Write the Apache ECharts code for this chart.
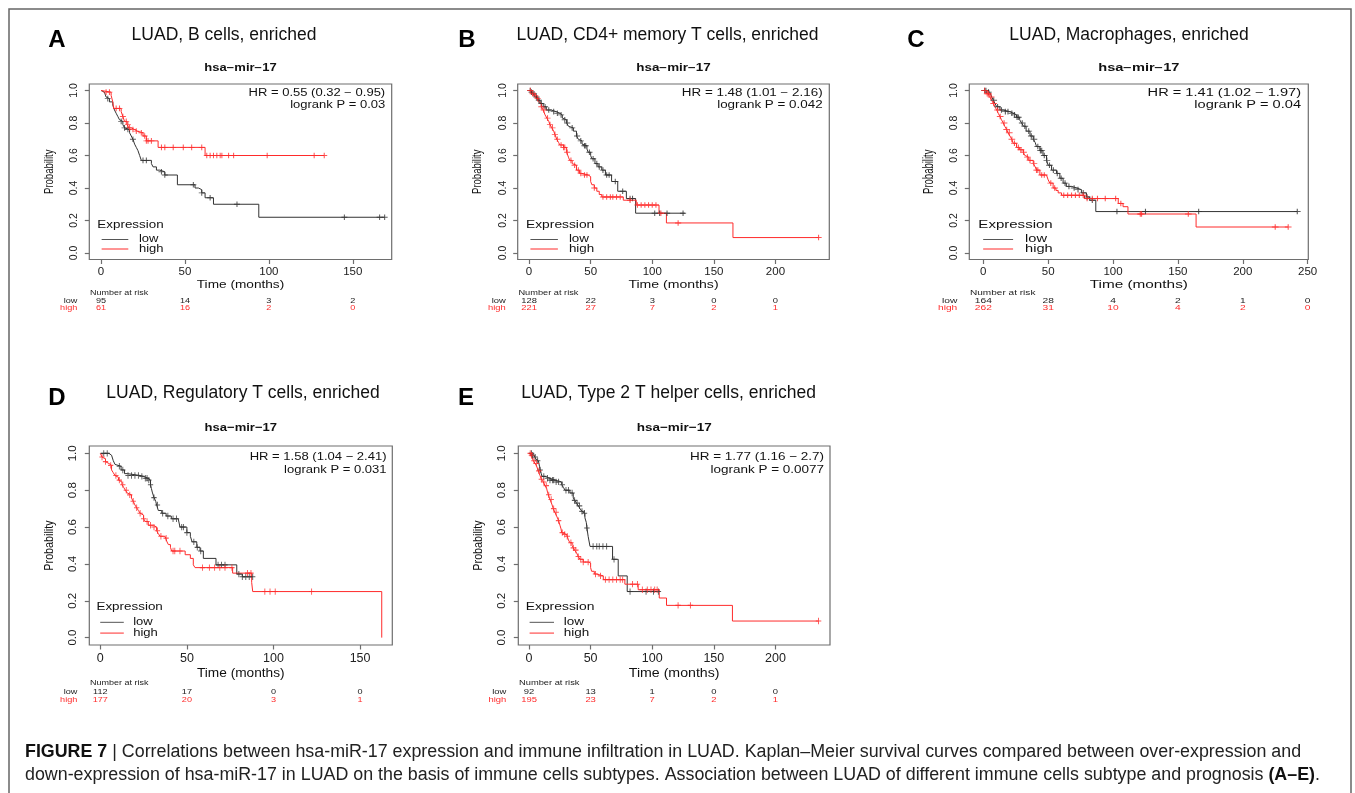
<!DOCTYPE html>
<html>
<head>
<meta charset="utf-8">
<script src="https://cdn.jsdelivr.net/npm/echarts@6/dist/echarts.min.js"></script>
<style>
  html, body { margin: 0; padding: 0; background: #fff; }
  #chart { width: 1355px; height: 793px; }
</style>
</head>
<body>
<div id="chart"></div>
<script>
// ---- data: KM steps [time, survival], censor times, risk tables ----
const yTicks = [0, 0.2, 0.4, 0.6, 0.8, 1.0]
const yTickLabels = ["0.0", "0.2", "0.4", "0.6", "0.8", "1.0"]

// A: B cells
const aTicks = [0, 50, 100, 150]
const aLow = [[0,1],[1,0.99],[2,0.98],[3,0.96],[4,0.95],[5,0.93],[7,0.91],[8,0.88],[9,0.86],[10,0.84],[11,0.82],[12,0.81],[13,0.79],[14,0.77],[15,0.76],[17,0.74],[18,0.72],[19,0.70],[20,0.67],[21,0.65],[22,0.63],[23,0.60],[24,0.57],[30,0.55],[31,0.53],[33,0.51],[35,0.50],[38,0.48],[45.5,0.42],[56,0.40],[58,0.39],[60,0.37],[62,0.34],[67,0.30],[94,0.22],[169,0.22]]
const aHigh = [[0,1],[1,0.99],[6,0.97],[7,0.93],[7.5,0.89],[12,0.87],[13,0.84],[14,0.81],[15.5,0.79],[16.5,0.77],[18,0.76],[20,0.75],[21.5,0.74],[25,0.72],[27,0.69],[34,0.65],[62,0.60],[133,0.60]]
const aLowCens = [4,12,14,16,19,25,27,36,38,55,60,65,81,145,166,169]
const aHighCens = [3,5,9,11,13,15,16,17,19,21,24,26,27,28,30,36,38,43,49,54,60,63,65,67,69,71,72,76,79,99,127,133]
const aRiskLow = [95, 14, 3, 2]
const aRiskHigh = [61, 16, 2, 0]

// B: CD4+ memory T cells
const bTicks = [0, 50, 100, 150, 200]
const bLow = [[0,1],[2,0.99],[3.5,0.98],[5,0.96],[7,0.94],[9,0.92],[11.5,0.90],[14,0.88],[18,0.87],[22,0.86],[25,0.85],[27,0.83],[28,0.82],[30.5,0.80],[32,0.78],[33.5,0.77],[36,0.75],[38.5,0.72],[40,0.70],[41.5,0.69],[43,0.67],[44,0.66],[47,0.64],[48,0.62],[50,0.60],[51,0.58],[53.5,0.55],[56,0.53],[59,0.51],[62,0.48],[67,0.44],[72,0.38],[79,0.335],[86.5,0.245],[126.5,0.245]]
const bHigh = [[0,1],[2,0.98],[4,0.97],[6,0.95],[8,0.93],[9,0.92],[10,0.90],[11.5,0.88],[13,0.85],[14.5,0.83],[16,0.81],[17,0.79],[18.5,0.77],[20,0.75],[21,0.73],[22.5,0.70],[24,0.68],[25,0.665],[28,0.65],[30.5,0.62],[32,0.59],[33,0.57],[35,0.55],[36,0.54],[38.5,0.51],[41,0.49],[43,0.48],[48,0.47],[50,0.44],[51,0.42],[53,0.40],[55,0.38],[57,0.36],[59,0.345],[76.5,0.325],[87,0.295],[105.5,0.245],[111.5,0.185],[165.5,0.095],[235,0.095]]
const bLowCens = [1,2,4,6,8,10,13,16,20,23,26,29,31,35,39,42,45,46,49,52,55,57,60,63,65,70,76,82,84,102,106,112,125]
const bHighCens = [1,3,5,7,10,12,15,17,19,21,23,26,28,29,31,34,37,40,42,45,47,53,60,63,66,68,71,74,82,88,91,94,97,100,103,107,121,235]
const bRiskLow = [128, 22, 3, 0, 0]
const bRiskHigh = [221, 27, 7, 2, 1]

// C: Macrophages
const cTicks = [0, 50, 100, 150, 200, 250]
const cLow = [[0,1],[3,0.99],[5,0.98],[6.5,0.96],[7.7,0.94],[9,0.92],[10.3,0.90],[12.8,0.88],[15.4,0.87],[20.5,0.86],[23,0.85],[25.6,0.835],[28,0.82],[29.5,0.80],[31,0.78],[33,0.75],[36,0.72],[38.5,0.70],[40,0.68],[41,0.655],[43.6,0.63],[46,0.60],[48.7,0.57],[50,0.54],[52.6,0.51],[56.4,0.49],[59,0.46],[61.5,0.43],[64,0.41],[68,0.40],[72,0.39],[75.6,0.37],[79.5,0.345],[82,0.325],[86.7,0.255],[242,0.255]]
const cHigh = [[0,1],[2.6,0.98],[5,0.96],[6.5,0.94],[7.7,0.92],[9,0.90],[10.3,0.88],[11.5,0.86],[12.8,0.84],[14,0.82],[15.4,0.80],[16.5,0.78],[18,0.76],[19,0.74],[20.5,0.72],[22,0.70],[23,0.675],[25.6,0.65],[28,0.635],[30.8,0.62],[32,0.60],[33.3,0.59],[35,0.57],[38.5,0.55],[40,0.53],[41,0.51],[43.6,0.48],[48.7,0.47],[50,0.45],[51.3,0.43],[53.8,0.40],[56,0.385],[57.7,0.37],[60.3,0.355],[78,0.335],[104,0.305],[107.7,0.285],[111.5,0.24],[164,0.16],[235,0.16]]
const cLowCens = [1,2,4,8,11,14,17,19,22,24,26,27,30,32,35,37,39,42,44,45,47,49,51,54,57,60,63,66,70,73,77,80,84,103,125,166,242]
const cHighCens = [1,3,4,6,8,11,13,16,18,20,22,24,27,29,31,34,36,39,41,42,45,47,52,55,62,65,68,71,74,77,80,84,88,94,102,106,121,122,158,225,235]
const cRiskLow = [164, 28, 4, 2, 1, 0]
const cRiskHigh = [262, 31, 10, 4, 2, 0]

// D: Regulatory T cells
const dTicks = [0, 50, 100, 150]
const dLow = [[0,1],[5,0.99],[6.5,0.98],[7.5,0.96],[8.5,0.94],[9.5,0.93],[12,0.91],[14,0.89],[15.5,0.88],[23,0.875],[25,0.865],[27.5,0.855],[29,0.83],[29.5,0.81],[30,0.79],[31,0.76],[32,0.74],[32.5,0.72],[33.5,0.69],[35.5,0.675],[38,0.66],[41,0.645],[45,0.64],[46,0.60],[50,0.57],[52,0.55],[53,0.52],[55.7,0.49],[57.6,0.47],[59.5,0.43],[66.8,0.395],[78.8,0.345],[82,0.33],[88,0.33]]
const dHigh = [[0,1],[0.5,0.99],[1,0.98],[2,0.97],[3,0.955],[4,0.945],[5,0.935],[6.5,0.91],[7.5,0.895],[8.5,0.88],[9.5,0.87],[10.5,0.855],[11.5,0.845],[12.5,0.83],[13.5,0.815],[14.5,0.80],[15.5,0.785],[16.5,0.775],[18,0.757],[19,0.74],[20,0.72],[21,0.705],[22,0.69],[23,0.675],[24,0.665],[25,0.645],[26,0.63],[27.7,0.61],[30.6,0.60],[32.5,0.58],[33.5,0.565],[34.5,0.55],[37.4,0.54],[38.5,0.52],[39.3,0.505],[40.5,0.49],[41.2,0.47],[49,0.45],[52,0.43],[53.7,0.395],[54.7,0.38],[76.4,0.35],[87.4,0.30],[88,0.25],[162.5,0]]
const dLowCens = [2,4,11,13,16,18,20,22,24,26,27,28,29,31,33,36,39,42,44,47,48,50,54,56,58,68,70,72,80,82,84,86,88]
const dHighCens = [1,3,6,9,11,13,15,17,19,21,23,25,27,29,31,33,35,38,42,43,46,59,63,66,69,72,76,85,87,95,98,101,122]
const dRiskLow = [112, 17, 0, 0]
const dRiskHigh = [177, 20, 3, 1]

// E: Type 2 T helper cells
const eTicks = [0, 50, 100, 150, 200]
const eLow = [[0,1],[2.2,0.99],[4,0.98],[5.5,0.97],[6.2,0.96],[7.6,0.95],[8.5,0.93],[9,0.91],[10,0.89],[10.5,0.875],[13,0.865],[17,0.855],[21,0.845],[26.5,0.83],[28,0.815],[29.2,0.80],[33.2,0.785],[35.9,0.757],[37,0.745],[38.6,0.73],[40,0.715],[41.4,0.70],[43,0.685],[44,0.675],[45.4,0.65],[46.5,0.625],[47,0.595],[48,0.55],[49.5,0.495],[67.8,0.425],[72.4,0.335],[79.7,0.25],[105,0.25]]
const eHigh = [[0,1],[1.4,0.99],[2.5,0.975],[3.5,0.96],[5,0.945],[6.2,0.93],[7.5,0.905],[8.9,0.88],[10,0.86],[11.6,0.845],[13,0.825],[14.3,0.81],[15,0.79],[15.7,0.775],[17,0.75],[18.5,0.725],[19.7,0.70],[21,0.68],[22.4,0.66],[24,0.635],[25.1,0.61],[26,0.59],[26.5,0.57],[27.8,0.56],[30.5,0.55],[32,0.53],[33.2,0.515],[35,0.50],[35.9,0.487],[37,0.475],[38.6,0.46],[40,0.44],[41.4,0.425],[44,0.41],[48.1,0.405],[50,0.38],[50.8,0.36],[53,0.345],[54.9,0.335],[60.3,0.315],[77.8,0.29],[88.6,0.26],[105.7,0.215],[111.6,0.175],[165.1,0.09],[235,0.09]]
const eLowCens = [2,3,5,7,9,12,15,17,19,20,22,24,27,30,32,35,37,39,41,43,45,47,52,55,57,60,63,69,82,95,101,105]
const eHighCens = [1,2,4,6,8,10,12,14,16,18,20,22,24,27,29,31,34,36,38,40,42,44,48,54,58,62,65,68,71,74,76,84,88,92,96,99,102,104,121,131,235]
const eRiskLow = [92, 13, 1, 0, 0]
const eRiskHigh = [195, 23, 7, 2, 1]

const letters = ["A", "B", "C", "D", "E"]
const panelTitles = [
  "LUAD, B cells, enriched",
  "LUAD, CD4+ memory T cells, enriched",
  "LUAD, Macrophages, enriched",
  "LUAD, Regulatory T cells, enriched",
  "LUAD, Type 2 T helper cells, enriched"
]
const hrTexts = [
  ["HR = 0.55 (0.32 \u2212 0.95)", "logrank P = 0.03"],
  ["HR = 1.48 (1.01 \u2212 2.16)", "logrank P = 0.042"],
  ["HR = 1.41 (1.02 \u2212 1.97)", "logrank P = 0.04"],
  ["HR = 1.58 (1.04 \u2212 2.41)", "logrank P = 0.031"],
  ["HR = 1.77 (1.16 \u2212 2.7)", "logrank P = 0.0077"]
]
const captionLine1 = "Correlations between hsa-miR-17 expression and immune infiltration in LUAD. Kaplan\u2013Meier survival curves compared between over-expression and"
const captionLine2 = "down-expression of hsa-miR-17 in LUAD on the basis of immune cells subtypes. Association between LUAD of different immune cells subtype and prognosis "

// ---- layout (pixel boxes of each plot, axis extents, stretch of the original R plots) ----
const FONT = "'Liberation Sans', Arial, Helvetica, sans-serif"
const BOX = "#6e6e6e"
const LOW_C = "#333333"
const HIGH_C = "#ff2b2b"

const panels = [
  { low: aLow, high: aHigh, lowCens: aLowCens, highCens: aHighCens, ticks: aTicks, riskLow: aRiskLow, riskHigh: aRiskHigh,
    box: [89.3, 84, 302.4, 175.5], xr: [-7.0, 173.2], sx: 1.3, v: 1, letter: [57, 40], titleAt: [224, 35] },
  { low: bLow, high: bHigh, lowCens: bLowCens, highCens: bHighCens, ticks: bTicks, riskLow: bRiskLow, riskHigh: bRiskHigh,
    box: [517.7, 84, 311.6, 175.5], xr: [-9.2, 243.7], sx: 1.34, v: 1, letter: [467, 40], titleAt: [667.5, 35] },
  { low: cLow, high: cHigh, lowCens: cLowCens, highCens: cHighCens, ticks: cTicks, riskLow: cRiskLow, riskHigh: cRiskHigh,
    box: [969.3, 84, 339, 175.5], xr: [-10.8, 250.5], sx: 1.46, v: 1, letter: [916, 40], titleAt: [1129, 35] },
  { low: dLow, high: dHigh, lowCens: dLowCens, highCens: dHighCens, ticks: dTicks, riskLow: dRiskLow, riskHigh: dRiskHigh,
    box: [89.3, 446, 303, 199], xr: [-6.35, 168.6], sx: 1.15, v: 1.134, letter: [57, 398], titleAt: [243, 393] },
  { low: eLow, high: eHigh, lowCens: eLowCens, highCens: eHighCens, ticks: eTicks, riskLow: eRiskLow, riskHigh: eRiskHigh,
    box: [518.3, 446, 311.7, 199], xr: [-8.7, 244.3], sx: 1.19, v: 1.134, letter: [466, 398], titleAt: [668.5, 393] }
]

// survival value of a step curve at time t
const stepAt = (steps, t) => {
  let s = steps[0][1]
  for (const [ti, si] of steps) { if (ti <= t) s = si; else break }
  return s
}

const PLUS = "path://M0 5 L10 5 M5 0 L5 10"

const option = { animation: false, backgroundColor: "#fff", grid: [], xAxis: [], yAxis: [], series: [] }

panels.forEach((p, i) => {
  const big = p.v > 1
  option.grid.push({ left: p.box[0], top: p.box[1], width: p.box[2], height: p.box[3],
    show: true, borderColor: BOX, borderWidth: 1.2, backgroundColor: "transparent" })
  option.xAxis.push({
    type: "value", gridIndex: i, min: p.xr[0], max: p.xr[1],
    axisLine: { show: false, onZero: false }, splitLine: { show: false },
    axisTick: { show: true, customValues: p.ticks, length: 4.5, lineStyle: { color: BOX, width: 1.2 } },
    axisLabel: { customValues: p.ticks, fontSize: big ? 12.5 : 11.5, color: "#222", margin: big ? 7 : 6, fontFamily: FONT }
  })
  option.yAxis.push({
    type: "value", gridIndex: i, min: -0.04, max: 1.04,
    axisLine: { show: false, onZero: false }, splitLine: { show: false },
    axisTick: { show: true, customValues: yTicks, length: 4.5, lineStyle: { color: BOX, width: 1.2 } },
    axisLabel: {
      customValues: yTicks, rotate: 90, fontSize: big ? 11.5 : 10.5, color: "#222", margin: big ? 10 : 9.5, fontFamily: FONT,
      formatter: (v) => yTickLabels[yTicks.findIndex((t) => Math.abs(t - v) < 1e-9)]
    }
  })
  const line = (data, color) => ({
    type: "line", xAxisIndex: i, yAxisIndex: i, data, step: "end", symbol: "none", silent: true,
    lineStyle: { color, width: 1 }, z: 2
  })
  const cens = (times, steps, color) => ({
    type: "scatter", xAxisIndex: i, yAxisIndex: i, silent: true, z: 3,
    data: times.map((t) => [t, stepAt(steps, t)]),
    symbol: PLUS, symbolSize: [4.6 * p.sx, 5.6 * p.v],
    itemStyle: { color: "transparent", borderColor: color, borderWidth: 1 }
  })
  option.series.push(line(p.low, LOW_C), line(p.high, HIGH_C),
    cens(p.lowCens, p.low, LOW_C), cens(p.highCens, p.high, HIGH_C))
})

const chart = echarts.init(document.getElementById("chart"))
chart.setOption(option)

const label = (x, y, text, o) => ({
  type: "text", x, y, silent: true, z: 100,
  scaleX: o.sx || 1, scaleY: o.sy || 1, rotation: o.rot || 0,
  style: { text, fontSize: o.size, fontFamily: FONT, fontWeight: o.weight || "normal",
    fill: o.color || "#111", align: o.align || "left", verticalAlign: "middle", rich: o.rich }
})

const g = []
// figure frame (open at the bottom)
g.push({ type: "polyline", silent: true, shape: { points: [[9, 800], [9, 9], [1351, 9], [1351, 800]] },
  style: { stroke: "#666", lineWidth: 1.5, fill: "none" } })

panels.forEach((p, i) => {
  const [L, T, W, H] = p.box
  const R = L + W, B = T + H, v = p.v, sx = p.sx
  g.push(label(p.letter[0], p.letter[1], letters[i], { size: 24, weight: "bold", align: "center", color: "#000" }))
  g.push(label(p.titleAt[0], p.titleAt[1], panelTitles[i], { size: 17.5, align: "center", color: "#111" }))
  g.push(label(L + W / 2, T - 16 * v, "hsa\u2212mir\u221217", { size: 10 * v, weight: "bold", align: "center", sx }))
  g.push(label(R - 5 * sx, T + 9.7 * v, hrTexts[i][0], { size: 10 * v, align: "right", sx }))
  g.push(label(R - 5 * sx, T + 21 * v, hrTexts[i][1], { size: 10 * v, align: "right", sx }))
  g.push(label(L + W / 2, B + 25.5 * v, "Time (months)", { size: 10.5 * v, align: "center", sx }))
  g.push(label(L - 40, T + H / 2, "Probability", { size: 9.5 * v, align: "center", rot: Math.PI / 2, sy: sx }))
  // legend
  g.push(label(L + 6.2 * sx, B - 34 * v, "Expression", { size: 10.3 * v, sx }))
  g.push({ type: "line", silent: true, z: 100, shape: { x1: L + 9.5 * sx, y1: B - 20 * v, x2: L + 30 * sx, y2: B - 20 * v },
    style: { stroke: "#555", lineWidth: 1 } })
  g.push({ type: "line", silent: true, z: 100, shape: { x1: L + 9.5 * sx, y1: B - 10.5 * v, x2: L + 30 * sx, y2: B - 10.5 * v },
    style: { stroke: HIGH_C, lineWidth: 1 } })
  g.push(label(L + 38.2 * sx, B - 20 * v, "low", { size: 10 * v, sx }))
  g.push(label(L + 38.2 * sx, B - 10.5 * v, "high", { size: 10 * v, sx }))
  // number at risk
  g.push(label(L + 0.7, B + 33.6 * v, "Number at risk", { size: 6.9 * v, sx, color: "#222" }))
  g.push(label(L - 12, B + 41.2 * v, "low", { size: 7 * v, sx, align: "right", color: "#222" }))
  g.push(label(L - 12, B + 48.6 * v, "high", { size: 7 * v, sx, align: "right", color: HIGH_C }))
  p.ticks.forEach((t, k) => {
    const x = chart.convertToPixel({ xAxisIndex: i }, t)
    g.push(label(x, B + 41.2 * v, String(p.riskLow[k]), { size: 7 * v, sx, align: "center", color: "#222" }))
    g.push(label(x, B + 48.6 * v, String(p.riskHigh[k]), { size: 7 * v, sx, align: "center", color: HIGH_C }))
  })
})

// caption
const CAP = 17.85
const capRich = {
  b: { fontSize: CAP, fontFamily: FONT, fontWeight: "bold", fill: "#111" },
  n: { fontSize: CAP, fontFamily: FONT, fill: "#222" }
}
g.push(label(25, 752, "{b|FIGURE 7}{n| | " + captionLine1 + "}", { size: CAP, rich: capRich }))
g.push(label(25, 775.5, "{n|" + captionLine2 + "}{b|(A\u2013E)}{n|.}", { size: CAP, rich: capRich }))

chart.setOption({ graphic: g })
</script>
</body>
</html>
